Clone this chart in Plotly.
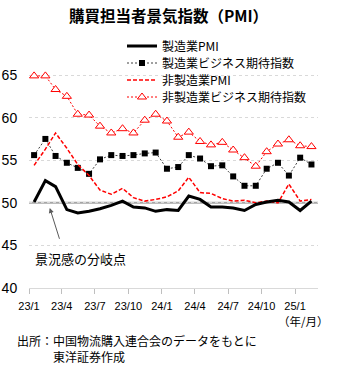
import plotly.graph_objects as go

months = ["2023-01", "2023-02", "2023-03", "2023-04", "2023-05", "2023-06",
          "2023-07", "2023-08", "2023-09", "2023-10", "2023-11", "2023-12",
          "2024-01", "2024-02", "2024-03", "2024-04", "2024-05", "2024-06",
          "2024-07", "2024-08", "2024-09", "2024-10", "2024-11", "2024-12",
          "2025-01", "2025-02"]
x_mid = [m + "-15" for m in months]

mfg_pmi = [50.1, 52.6, 51.9, 49.2, 48.8, 49.0, 49.3, 49.7, 50.2, 49.5, 49.4, 49.0,
           49.2, 49.1, 50.8, 50.4, 49.5, 49.5, 49.4, 49.1, 49.8, 50.1, 50.3, 50.1,
           49.1, 50.2]
mfg_exp = [55.6, 57.5, 55.5, 54.7, 54.1, 53.4, 55.1, 55.6, 55.5, 55.6, 55.8, 55.9,
           54.0, 54.2, 55.6, 55.2, 54.3, 54.4, 53.1, 52.0, 52.0, 54.0, 54.7, 53.2,
           55.3, 54.5]
nonmfg_pmi = [54.4, 56.3, 58.2, 56.4, 54.5, 53.2, 51.5, 51.0, 51.7, 50.6, 50.2, 50.4,
              50.7, 51.4, 53.0, 51.2, 51.1, 50.5, 50.2, 50.3, 50.0, 50.2, 50.0, 52.2,
              50.2, 50.4]
nonmfg_exp = [64.9, 64.9, 63.3, 62.5, 60.4, 60.3, 59.0, 58.2, 58.7, 58.2, 59.7, 60.4,
              59.6, 57.7, 58.3, 57.2, 56.8, 57.1, 56.2, 55.3, 54.3, 56.0, 56.9, 57.4,
              56.7, 56.6]

tick_months = ["2023-01-01", "2023-04-01", "2023-07-01", "2023-10-01", "2024-01-01",
               "2024-04-01", "2024-07-01", "2024-10-01", "2025-01-01"]
tick_labels = ["23/1", "23/4", "23/7", "23/10", "24/1", "24/4", "24/7", "24/10", "25/1"]
y_ticks = [40, 45, 50, 55, 60, 65]

JP = "Noto Sans CJK JP"
NUM = "Liberation Sans"

fig = go.Figure()
fig.add_trace(go.Scatter(
    x=x_mid, y=mfg_exp, name="製造業ビジネス期待指数", mode="lines+markers",
    line=dict(color="#404040", width=1, dash="2px,2px"),
    marker=dict(symbol="square", size=6, color="black"), legend="legend2"))
fig.add_trace(go.Scatter(
    x=x_mid, y=nonmfg_pmi, name="非製造業PMI", mode="lines",
    line=dict(color="#ff0000", width=1.5, dash="4px,2px"), legend="legend3"))
fig.add_trace(go.Scatter(
    x=x_mid, y=nonmfg_exp, name="非製造業ビジネス期待指数", mode="lines+markers",
    line=dict(color="#ff0000", width=1, dash="2px,2px"),
    marker=dict(symbol="triangle-up", size=8, color="white",
                line=dict(color="#ff0000", width=1)), legend="legend4"))
fig.add_trace(go.Scatter(
    x=x_mid, y=mfg_pmi, name="製造業PMI", mode="lines",
    line=dict(color="black", width=3), legend="legend"))

fig.add_shape(type="line", xref="paper", x0=0, x1=1, yref="y", y0=50, y1=50,
              line=dict(color="#a6a6a6", width=2), layer="below")


def leg(center_px):
    top_px = center_px - 14
    return dict(x=(122 - 29) / 289, y=(288 - top_px) / 230,
                xanchor="left", yanchor="top", bgcolor="rgba(0,0,0,0)",
                font=dict(size=12, family=JP))


fig.update_layout(
    width=337, height=370,
    margin=dict(l=29, r=19, t=58, b=82),
    paper_bgcolor="white", plot_bgcolor="white",
    font=dict(family=JP, color="black", size=12),
    title=dict(text="<b>購買担当者景気指数（PMI）</b>", x=0.5, xanchor="center",
               xref="container", y=1 - 17 / 370, yref="container", yanchor="middle",
               font=dict(size=15.5, family=JP)),
    showlegend=True,
    legend=leg(45.5), legend2=leg(62.5), legend3=leg(79.5), legend4=leg(96.5),
    xaxis=dict(type="date", range=["2023-01-01", "2025-03-05"],
               tickvals=tick_months, ticktext=tick_labels, automargin=False,
               showgrid=False, showline=True, linecolor="#d9d9d9", linewidth=1,
               ticks="outside", ticklen=5, tickcolor="#bfbfbf",
               ticklabelstandoff=3,
               tickfont=dict(family=NUM, size=11), zeroline=False),
    yaxis=dict(range=[40, 67], tickvals=y_ticks, showgrid=True, automargin=False,
               gridcolor="#d9d9d9", griddash="dot", gridwidth=1,
               showline=False, zeroline=False,
               ticks="outside", ticklen=8, tickcolor="rgba(0,0,0,0)",
               tickfont=dict(family=NUM, size=14)),
)

fig.add_annotation(x="2023-02-27", y=49.4, xref="x", yref="y", text="",
                   showarrow=True, axref="x", ayref="y",
                   ax="2023-03-27", ay=45.6, arrowhead=2, arrowsize=1,
                   arrowwidth=1, arrowcolor="#595959")
fig.add_annotation(x=(33 - 29) / 289, y=(288 - 258) / 230, xref="paper", yref="paper",
                   text="景況感の分岐点", showarrow=False, xanchor="left",
                   yanchor="middle", font=dict(size=13, family=JP))
fig.add_annotation(x=(331 - 29) / 289, y=(288 - 321) / 230, xref="paper", yref="paper",
                   text="（年/月）", showarrow=False, xanchor="right", yanchor="middle",
                   font=dict(size=11.5, family=JP))
fig.add_annotation(x=(15 - 29) / 289, y=(288 - 348) / 230, xref="paper", yref="paper",
                   text="出所：中国物流購入連合会のデータをもとに<br>　　　東洋証券作成",
                   showarrow=False, align="left",
                   xanchor="left", yanchor="middle", font=dict(size=12, family=JP))

fig.write_html("out.html")
